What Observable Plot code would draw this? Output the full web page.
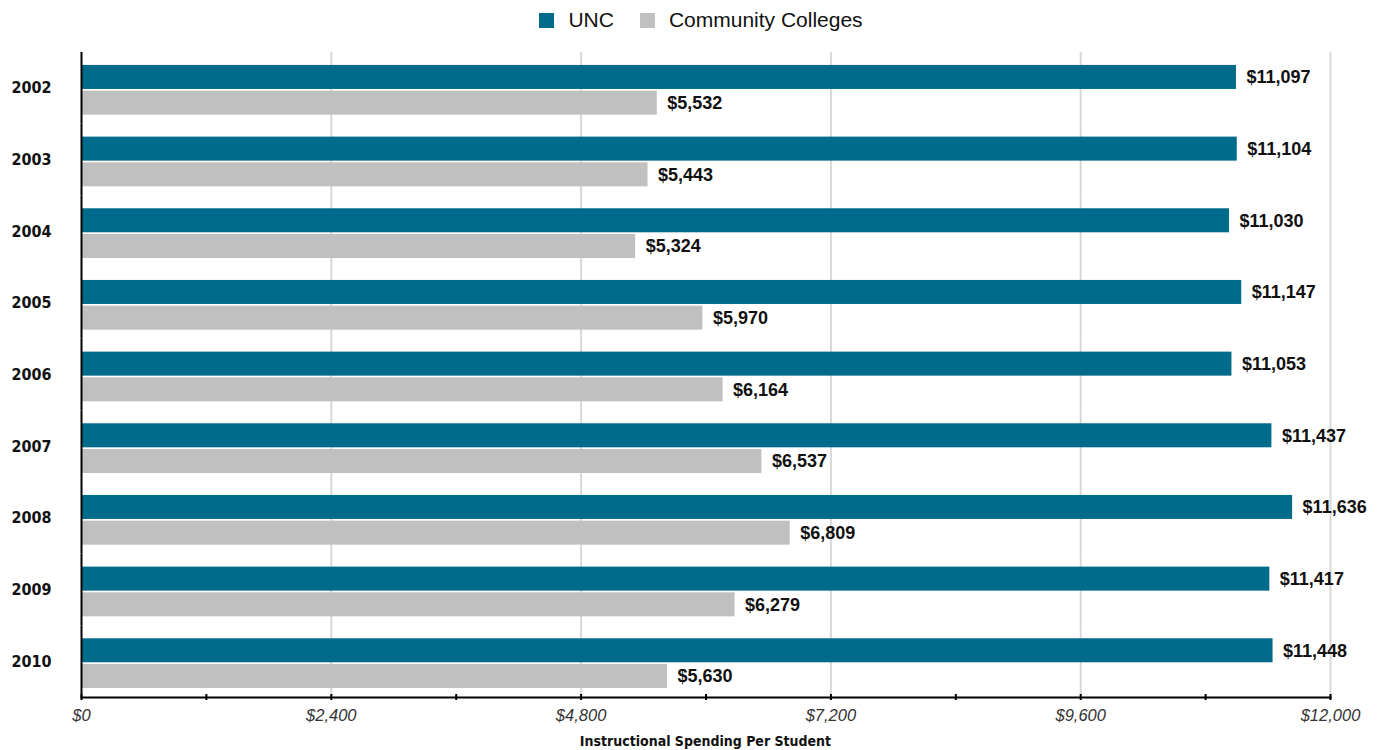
<!DOCTYPE html>
<html>
<head>
<meta charset="utf-8">
<script src="https://cdn.jsdelivr.net/npm/d3@7"></script>
<script src="https://cdn.jsdelivr.net/npm/@observablehq/plot@0.6"></script>
<style>
  html, body { margin: 0; background: #fff; overflow: hidden; font-family: "Liberation Sans", Arial, sans-serif; }
  #legend { height: 40px; display: flex; justify-content: center; align-items: center; padding-left: 18px; box-sizing: border-box; }
  .item { display: flex; align-items: center; font-size: 21px; color: #111; margin: 0 13px; }
  .sw { width: 15px; height: 15px; margin-right: 14px; display: inline-block; flex-shrink: 0; }
  #chart svg { display: block; max-width: none !important; }
</style>
</head>
<body>
<div id="legend"></div>
<div id="chart"></div>
<script>
const years = ["2002","2003","2004","2005","2006","2007","2008","2009","2010"];
const series = ["UNC", "Community Colleges"];
const uncValues = [11097, 11104, 11030, 11147, 11053, 11437, 11636, 11417, 11448];
const ccValues = [5532, 5443, 5324, 5970, 6164, 6537, 6809, 6279, 5630];
const majorTicks = [0, 2400, 4800, 7200, 9600, 12000];
const minorTicks = [0, 1200, 2400, 3600, 4800, 6000, 7200, 8400, 9600, 10800, 12000];
const colors = ["#016b8c", "#c0c0c0"];
const xTitle = "Instructional Spending Per Student";

const data = [];
years.forEach((y, i) => {
  data.push({year: y, series: series[0], value: uncValues[i]});
  data.push({year: y, series: series[1], value: ccValues[i]});
});

const legend = document.getElementById("legend");
series.forEach((s, i) => {
  const it = document.createElement("div");
  it.className = "item";
  it.innerHTML = `<span class="sw" style="background:${colors[i]}"></span>${s}`;
  legend.appendChild(it);
});

const fmt = d3.format(",");
const narrow = `"DejaVu Sans Condensed", "DejaVu Sans", sans-serif`;

const chart = Plot.plot({
  width: 1384,
  height: 710,
  marginLeft: 81,
  marginRight: 54,
  marginTop: 12,
  marginBottom: 53,
  style: {fontFamily: `"Liberation Sans", Arial, sans-serif`, background: "#fff"},
  x: {domain: [0, 12000], axis: null},
  y: {domain: series, axis: null, paddingInner: 0.066, paddingOuter: 0.427, align: 0.59, round: false},
  fy: {domain: years, axis: null, padding: 0, round: false},
  color: {domain: series, range: colors},
  marks: [
    Plot.gridX(majorTicks.slice(1), {stroke: "#d8d8d8", strokeOpacity: 1, strokeWidth: 2}),
    Plot.barX(data, {fy: "year", y: "series", x: "value", fill: "series"}),
    Plot.text(data, {fy: "year", y: "series", x: "value", text: d => "$" + fmt(d.value),
      textAnchor: "start", dx: 10, fontWeight: "bold", fontSize: 18, fill: "#111"}),
    Plot.ruleX([0], {stroke: "#000", strokeWidth: 2}),
    Plot.frame({anchor: "bottom", facetAnchor: "bottom", stroke: "#000", strokeWidth: 2}),
    Plot.axisX(minorTicks, {anchor: "bottom", tickSize: 6, dy: -3, text: null, label: null, stroke: "#000", strokeWidth: 2}),
    Plot.axisX(majorTicks, {anchor: "bottom", tickSize: 0, tickPadding: 12, tickFormat: d => "$" + fmt(d),
      fontSize: 16.5, fontStyle: "italic", fill: "#333", label: null}),
    Plot.axisFy({anchor: "left", tickSize: 0, tickPadding: 30, fontSize: 16, fontWeight: "bold",
      fontFamily: narrow, fill: "#111", label: null})
  ]
});
document.getElementById("chart").appendChild(chart);

const svg = d3.select(chart);
svg.append("text")
  .attr("x", (81 + 1330) / 2).attr("y", 706)
  .attr("text-anchor", "middle")
  .attr("font-family", narrow)
  .attr("font-weight", "bold").attr("font-size", 14).attr("fill", "#111")
  .text(xTitle);
</script>
</body>
</html>
